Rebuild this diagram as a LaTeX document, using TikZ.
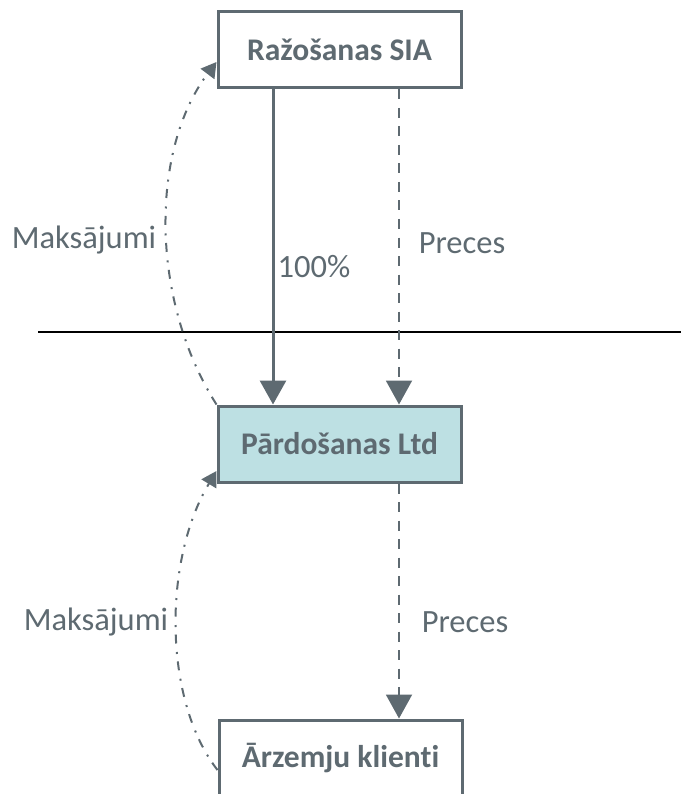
\documentclass[tikz,border=0pt]{standalone}
\usepackage{fontspec}
\setmainfont{Carlito}[Ligatures=CommonOff]
\usetikzlibrary{arrows.meta}
\definecolor{slate}{HTML}{5E6A71}
\definecolor{teal}{HTML}{BDE0E3}
\tikzset{
  entity/.style={draw=slate, line width=3pt, minimum width=243pt, minimum height=76pt,
    inner sep=0pt, font=\fontsize{31.5}{36}\selectfont\bfseries, text=slate},
  flowlabel/.style={font=\fontsize{32.5}{38}\selectfont, text=slate, inner sep=0pt},
  tip/.style={-{Triangle[width=26pt,length=24pt]}},
  owns/.style={tip, draw=slate, line width=3pt},
  goods/.style={tip, draw=slate, line width=2pt, dash pattern=on 10pt off 8.5pt},
  payment/.style={-{Triangle[width=17pt,length=15pt]}, draw=slate, line width=2pt,
    dash pattern=on 9pt off 7.5pt on 2pt off 8.5pt}
}
\begin{document}
\begin{tikzpicture}[x=1pt, y=-1pt]
  \useasboundingbox (0,0) rectangle (681,794);
  \node[entity, fill=white] (raz) at (339.5,50) {Ražošanas SIA};
  \node[entity, fill=teal] (pard) at (339.5,444) {Pārdošanas Ltd};
  \node[entity, fill=white] (klienti) at (340.5,758) {Ārzemju klienti};

  % border line between the two companies
  \coordinate (lineL) at (38,332);
  \coordinate (lineR) at (681,332);
  \draw[black, line width=1.3pt] (lineL) -- (lineR);

  % ownership and goods flows
  \draw[owns] ([xshift=-66.5pt]raz.south) -- ([xshift=-66.5pt]pard.north);
  \draw[goods] ([xshift=59.5pt]raz.south) -- ([xshift=59.5pt]pard.north);
  \draw[goods] ([xshift=59.5pt]pard.south) -- ([xshift=58.5pt]klienti.north);

  % payments flowing back up
  \draw[payment] (pard.north west) .. controls (150,300) and (150,150) .. ([yshift=-12pt]raz.west);
  \draw[payment] ([yshift=-12pt]klienti.west) .. controls (163,700) and (163,560) .. ([yshift=-27pt]pard.west);

  \node[flowlabel] (l100) at (314,267) {100\%};
  \node[flowlabel] (lprec1) at (462,243) {Preces};
  \node[flowlabel] (lprec2) at (465,622) {Preces};
  \node[flowlabel] (lmaks1) at (84,240) {Maksājumi};
  \node[flowlabel] (lmaks2) at (96,622) {Maksājumi};
\end{tikzpicture}
\end{document}
